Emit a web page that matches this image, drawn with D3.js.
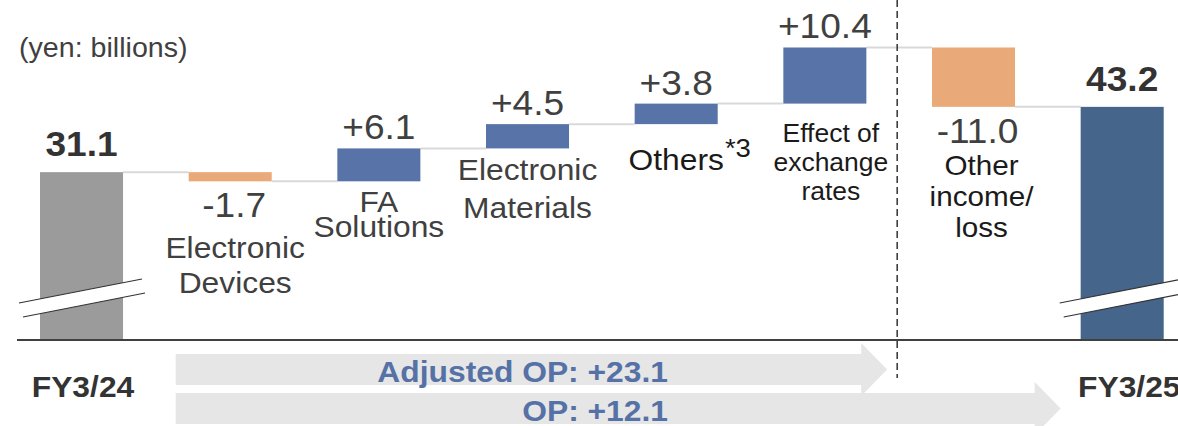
<!DOCTYPE html>
<html>
<head>
<meta charset="utf-8">
<script src="https://cdn.jsdelivr.net/npm/d3@7"></script>
<style>
  html, body { margin: 0; padding: 0; background: #fff; }
  svg { display: block; font-family: "Liberation Sans", Arial, sans-serif; }
</style>
</head>
<body>
<svg id="chart" width="1178" height="426"></svg>
<script>
// ---- data ----
const categories = ["FY3/24", "Electronic Devices", "FA Solutions", "Electronic Materials", "Others", "Effect of exchange rates", "Other income/loss", "FY3/25"];
const values = [31.1, -1.7, 6.1, 4.5, 3.8, 10.4, -11.0, 43.2];
const kinds = ["total", "delta", "delta", "delta", "delta", "delta", "delta", "total"];
const valueLabels = ["31.1", "-1.7", "+6.1", "+4.5", "+3.8", "+10.4", "-11.0", "43.2"];
const categoryLines = [
  [],
  ["Electronic", "Devices"],
  ["FA", "Solutions"],
  ["Electronic", "Materials"],
  ["Others"],
  ["Effect of", "exchange", "rates"],
  ["Other", "income/", "loss"],
  []
];
const footnotes = ["", "", "", "", "*3", "", "", ""];
const periodLabels = ["FY3/24", "FY3/25"];
const unitLabel = "(yen: billions)";
const summaryLabels = ["Adjusted OP: +23.1", "OP: +12.1"];

// ---- layout / style (not data) ----
const W = 1178, H = 426;
const baseY = 340;
const SX = 1.06; // horizontal stretch of the reference's text
const colors = { start: "#9b9b9b", end: "#46658a", up: "#5873a8", down: "#e9a979", conn: "#d9d9d9", text: "#404040", dark: "#1a1a1a", arrow: "#e6e6e6", summary: "#5571a6" };
const catLayout = [
  null,
  { dx: 5, first: 77, gap: 35, size: 30, color: colors.text },
  { dx: 0, first: 31, gap: 25, size: 30, color: colors.text },
  { dx: 0, first: 32, gap: 38, size: 30, color: colors.text },
  { dx: 0, first: 46, gap: 30, size: 30, color: colors.dark },
  { dx: 6, first: 38.5, gap: 29, size: 25, color: colors.dark },
  { dx: 8, first: 68, gap: 31, size: 28, color: colors.dark },
  null
];

const svg = d3.select("#chart");

function label(parent, px, py, str, o) {
  return parent.append("text")
    .attr("transform", `translate(${px},${py}) scale(${SX},1)`)
    .attr("text-anchor", o.anchor || "middle")
    .attr("font-size", o.size)
    .attr("font-weight", o.bold ? "bold" : "normal")
    .attr("fill", o.color)
    .text(str);
}

const x = d3.scaleBand().domain(categories).range([40, 1163.7]).paddingInner(0.4415).paddingOuter(0);
const y = d3.scaleLinear().domain([0, 63]).range([baseY, 0]);
const bw = x.bandwidth();

// compute waterfall
let run = 0;
const bars = categories.map((c, i) => {
  let lo, hi, after;
  if (kinds[i] === "total") {
    lo = 0; hi = values[i]; after = values[i];
    run = values[i];
  } else {
    const before = run; after = run + values[i];
    lo = Math.min(before, after); hi = Math.max(before, after);
    run = after;
  }
  return { c, i, v: values[i], lo, hi, after, kind: kinds[i] };
});

function barColor(d) {
  if (d.kind === "total") return d.i === 0 ? colors.start : colors.end;
  return d.v >= 0 ? colors.up : colors.down;
}

// connectors
const conns = bars.slice(0, -1).map((d, k) => ({ x1: x(d.c) + bw, x2: x(bars[k + 1].c), yv: d.after }));
svg.append("g").selectAll("line").data(conns).join("line")
  .attr("x1", d => d.x1).attr("x2", d => d.x2)
  .attr("y1", d => y(d.yv)).attr("y2", d => y(d.yv))
  .attr("stroke", colors.conn).attr("stroke-width", 2);

// arrows (background summary)
const ax0 = x(categories[1]) - 13;
const dashX = (x(categories[5]) + bw + x(categories[6])) / 2 - 2;
const arrows = [
  { x0: ax0, tip: dashX - 10, cy: 369.5, label: summaryLabels[0], ty: 382 },
  { x0: ax0, tip: x(categories[7]) - 20, cy: 408.5, label: summaryLabels[1], ty: 421 }
];
const bodyH = 31, headH = 53, headL = 26;
const ag = svg.append("g");
arrows.forEach(a => {
  const hb = a.tip - headL;
  const p = d3.path();
  p.moveTo(a.x0, a.cy - bodyH / 2);
  p.lineTo(hb, a.cy - bodyH / 2);
  p.lineTo(hb, a.cy - headH / 2);
  p.lineTo(a.tip, a.cy);
  p.lineTo(hb, a.cy + headH / 2);
  p.lineTo(hb, a.cy + bodyH / 2);
  p.lineTo(a.x0, a.cy + bodyH / 2);
  p.closePath();
  ag.append("path").attr("d", p.toString()).attr("fill", colors.arrow);
});
arrows.forEach(a => {
  label(ag, 668, a.ty, a.label, { anchor: "end", size: 30, bold: true, color: colors.summary });
});

// bars
svg.append("g").selectAll("rect").data(bars).join("rect")
  .attr("x", d => x(d.c)).attr("width", bw)
  .attr("y", d => y(d.hi)).attr("height", d => y(d.lo) - y(d.hi))
  .attr("fill", barColor);

// break marks on total bars
bars.filter(d => d.kind === "total").forEach(d => {
  const xl = x(d.c), xr = xl + bw;
  const a1 = [xl - 21, baseY - 37], b1 = [xr + 19, baseY - 61];
  const a2 = [xl - 17, baseY - 23], b2 = [xr + 22, baseY - 47];
  const g = svg.append("g");
  g.append("path").attr("d", `M${a1}L${b1}L${b2}L${a2}Z`).attr("fill", "#fff");
  g.append("line").attr("x1", a1[0]).attr("y1", a1[1]).attr("x2", b1[0]).attr("y2", b1[1]).attr("stroke", "#333").attr("stroke-width", 1.2);
  g.append("line").attr("x1", a2[0]).attr("y1", a2[1]).attr("x2", b2[0]).attr("y2", b2[1]).attr("stroke", "#333").attr("stroke-width", 1.2);
});

// baseline axis
svg.append("line").attr("x1", 17).attr("x2", W).attr("y1", baseY).attr("y2", baseY)
  .attr("stroke", "#404040").attr("stroke-width", 2);

// dashed separator
svg.append("line").attr("x1", dashX).attr("x2", dashX).attr("y1", 0).attr("y2", 378)
  .attr("stroke", "#333").attr("stroke-width", 1.5).attr("stroke-dasharray", "7,4");

// value labels
const vg = svg.append("g");
bars.forEach(d => {
  const cx = x(d.c) + bw / 2;
  let ty, bold = false, dx = 0;
  if (d.kind === "total") { ty = y(d.hi) - 16; bold = true; }
  else if (d.v >= 0) { ty = y(d.hi) - 9; }
  else { ty = y(d.lo) + 36; dx = 4; }
  label(vg, cx + dx, ty, valueLabels[d.i], { size: 35, bold, color: bold ? "#333" : colors.text });
});

// category labels
const cg = svg.append("g");
bars.forEach(d => {
  const L = catLayout[d.i];
  if (!L) return;
  const cx = x(d.c) + bw / 2 + L.dx;
  const yb = y(d.lo);
  categoryLines[d.i].forEach((line, k) => {
    const t = label(cg, cx, yb + L.first + k * L.gap, line, { size: L.size, color: L.color });
    if (footnotes[d.i] && k === categoryLines[d.i].length - 1) {
      const w = t.node().getComputedTextLength() * SX;
      label(cg, cx + w / 2 + 1, yb + L.first + k * L.gap - 13, footnotes[d.i], { anchor: "start", size: 26, color: L.color });
    }
  });
});

// period labels
label(svg, 83, 397, periodLabels[0], { size: 30, bold: true, color: "#333" });
label(svg, 1078, 397, periodLabels[1], { anchor: "start", size: 30, bold: true, color: "#333" });

// unit label
label(svg, 19, 57, unitLabel, { anchor: "start", size: 27, color: colors.text });
</script>
</body>
</html>
